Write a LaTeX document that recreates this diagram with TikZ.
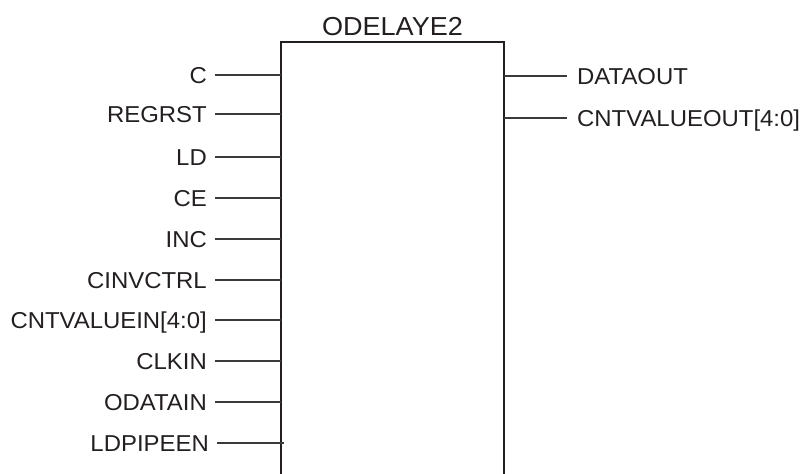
\documentclass[tikz,border=0pt]{standalone}
\usepackage{fontspec}
\setmainfont{Liberation Sans}[FakeStretch=1.04]
\usepackage{xcolor}
\usetikzlibrary{positioning,calc}
\definecolor{PinInk} {HTML}{231F20}
\definecolor{PinWire}{HTML}{3A3A3A}

\begin{document}
\begin{tikzpicture}[x=1pt,y=-1pt,
    blk/.style={draw=PinInk,line width=2.6pt},
    wire/.style={draw=PinWire,line width=1.2pt},
    lbl/.style={font=\fontsize{23}{27}\selectfont,text=PinInk,
      text height=16.5pt,text depth=0pt,inner ysep=0pt},
    hd/.style={font=\fontsize{26}{30}\selectfont,text=PinInk}
  ]
    \useasboundingbox (0,0) rectangle (804,474);
    % block outline, open at the bottom
    \coordinate (BL) at (281,476);
    \coordinate (TL) at (281,42);
    \coordinate (TR) at (504,42);
    \coordinate (BR) at (504,476);
    \draw[blk] (BL) -- (TL) -- (TR) -- (BR);
    \node[hd,above=3pt] (T) at ($(TL)!0.5!(TR)$) {ODELAYE2};
    % inputs
    \foreach \y/\n/\t in {75/c/C,114/rst/REGRST,157/ld/LD,198/ce/CE,239/inc/INC,
        280/inv/CINVCTRL,320/cin/CNTVALUEIN[4:0],361/clk/CLKIN,402/odi/ODATAIN}{
      \node[lbl,anchor=east,inner xsep=8pt](l\n) at (215,\y) {\t};
      \coordinate (p\n) at (281,\y);
      \draw[wire] (l\n.east) -- (p\n);
    }
    \node[lbl,anchor=east,inner xsep=8pt](lpipe) at (217,443) {LDPIPEEN};
    \coordinate (ppipe) at (284,443);
    \draw[wire] (lpipe.east) -- (ppipe);
    % outputs
    \foreach \y/\n/\t in {76/dout/DATAOUT,118/cout/CNTVALUEOUT[4:0]}{
      \node[lbl,anchor=west,inner xsep=10pt](r\n) at (567,\y) {\t};
      \coordinate (q\n) at (504,\y);
      \draw[wire] (q\n) -- (r\n.west);
    }
\end{tikzpicture}
\end{document}
